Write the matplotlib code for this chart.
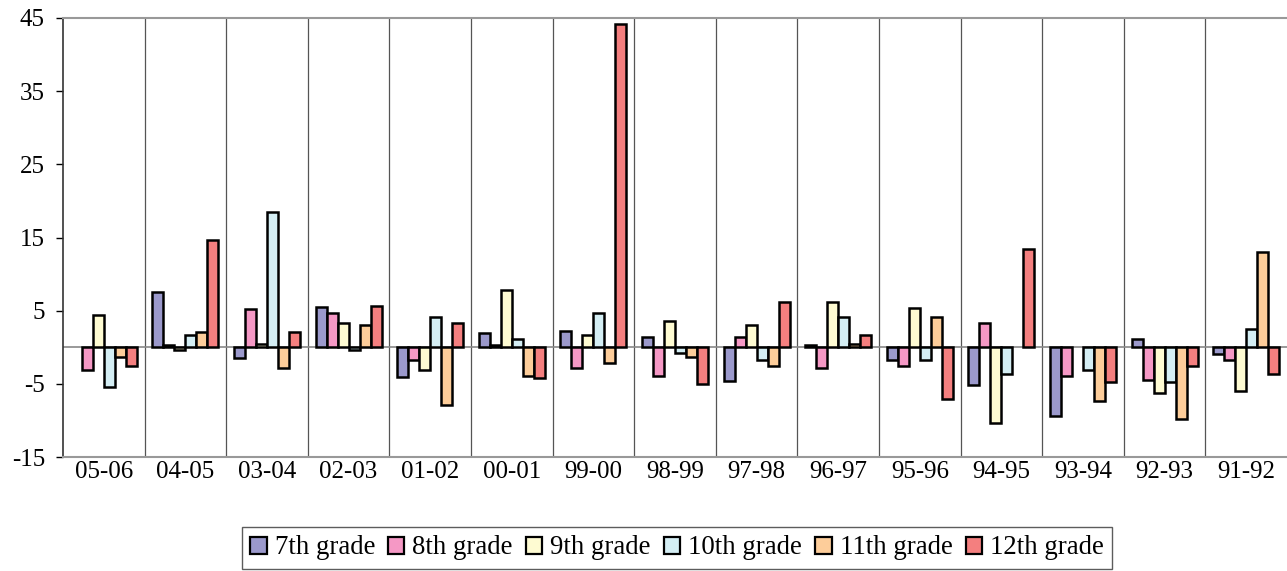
import matplotlib
matplotlib.use("Agg")
import matplotlib.pyplot as plt
import numpy as np
from matplotlib.patches import Patch

nan = float("nan")

categories = ["05-06", "04-05", "03-04", "02-03", "01-02", "00-01", "99-00",
              "98-99", "97-98", "96-97", "95-96", "94-95", "93-94", "92-93", "91-92"]
series_names = ["7th grade", "8th grade", "9th grade", "10th grade", "11th grade", "12th grade"]

grade7 = [nan, 7.55, -1.45, 5.55, -4.0, 1.9, 2.2, 1.4, -4.6, 0.27, -1.7, -5.1, -9.36, 1.1, -0.86]
grade8 = [-3.1, 0.27, 5.27, 4.7, -1.7, 0.27, -2.86, -3.95, 1.4, -2.86, -2.5, 3.3, -3.9, -4.5, -1.7]
grade9 = [4.45, -0.36, 0.5, 3.3, -3.1, 7.86, 1.64, 3.6, 3.05, 6.14, 5.3, -10.4, nan, -6.2, -5.95]
grade10 = [-5.4, 1.64, 18.5, -0.36, 4.2, 1.1, 4.7, -0.8, -1.7, 4.2, -1.7, -3.7, -3.1, -4.8, 2.5]
grade11 = [-1.4, 2.14, -2.9, 3.05, -7.95, -3.95, -2.2, -1.4, -2.5, 0.45, 4.2, nan, -7.3, -9.86, 12.95]
grade12 = [-2.6, 14.6, 2.14, 5.6, 3.3, -4.27, 44.2, -5.05, 6.14, 1.64, -7.05, 13.45, -4.8, -2.5, -3.7]

series = [grade7, grade8, grade9, grade10, grade11, grade12]
colors = ["#9B99CC", "#F598C5", "#FEFBD2", "#D4EEF4", "#FDCD9A", "#F47F7F"]

plt.rcParams["font.family"] = ["Liberation Serif", "DejaVu Serif"]
plt.rcParams["axes.unicode_minus"] = False

fig = plt.figure(figsize=(12.87, 5.71), dpi=100)
ax = fig.add_axes([63 / 1287, 1 - 457 / 571, 1 - 63 / 1287, (457 - 18) / 571])

x = np.arange(len(categories))
w = 0.135
n = len(series)
for i, (vals, c) in enumerate(zip(series, colors)):
    offs = (i - (n - 1) / 2) * w
    ax.bar(x + offs, vals, width=w, color=c, edgecolor="black", linewidth=1.8, zorder=3)

ax.set_xlim(-0.5, len(categories) - 0.5)
ax.set_ylim(-15, 45)
ax.set_yticks([-15, -5, 5, 15, 25, 35, 45])
ax.set_xticks(x)
ax.set_xticklabels(categories)
ax.tick_params(axis="x", length=0, pad=3, labelsize=18)
ax.tick_params(axis="y", length=5, width=1, direction="out", pad=8, labelsize=18)

for b in np.arange(0.5, len(categories) - 0.5, 1.0):
    ax.axvline(b, color="#555555", linewidth=0.9, zorder=1)
ax.axhline(0, color="#888888", linewidth=1.2, zorder=2)

ax.spines["right"].set_visible(False)
ax.spines["top"].set_color("#999999")
ax.spines["top"].set_linewidth(1.5)
ax.spines["bottom"].set_color("#999999")
ax.spines["bottom"].set_linewidth(1.5)
ax.spines["left"].set_color("#333333")
ax.spines["left"].set_linewidth(1.2)

handles = [Patch(facecolor=c, edgecolor="black", linewidth=1.6) for c in colors]
leg = fig.legend(handles, series_names, loc="center", bbox_to_anchor=(677 / 1287, 1 - 548 / 571),
                 ncol=6, fontsize=19.3, frameon=True, fancybox=False, edgecolor="#333333",
                 handlelength=0.6, handleheight=0.6, handletextpad=0.3, columnspacing=0.5,
                 borderpad=0.3)
leg.get_frame().set_linewidth(1.0)

fig.savefig("out.png", dpi=100)
